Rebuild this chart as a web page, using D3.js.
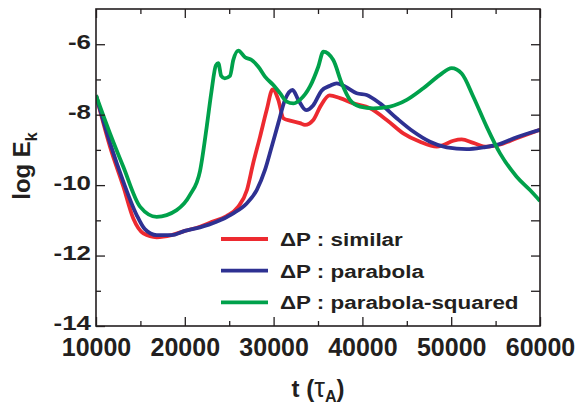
<!DOCTYPE html>
<html>
<head>
<meta charset="utf-8">
<script src="https://cdn.jsdelivr.net/npm/d3@7"></script>
<style>
  body { margin: 0; background: #fff; }
  svg { display: block; font-family: "Liberation Sans", Arial, Helvetica, sans-serif; font-weight: bold; }
</style>
</head>
<body>
<div id="chart"></div>
<script>
// Data: time t (tau_A) and log Ek for each case
var tSimilar = [10000, 11577, 13075, 14200, 15330, 16835, 18500, 20000, 21700, 23000, 24700, 26000, 27000, 27700, 28470, 29220, 29900, 30530, 31100, 31850, 32970, 33530, 34470, 35300, 36300, 37480, 38975, 40855, 42740, 44600, 46490, 48370, 49110, 50240, 51180, 52490, 53990, 55300, 57370, 60000];
var logSimilar = [-7.45, -8.91, -10.04, -10.95, -11.37, -11.48, -11.42, -11.3, -11.18, -11.05, -10.88, -10.62, -10.14, -9.38, -8.63, -7.87, -7.28, -7.58, -8.1, -8.17, -8.24, -8.29, -8.15, -7.75, -7.45, -7.53, -7.68, -7.82, -8.15, -8.53, -8.77, -8.91, -8.86, -8.74, -8.7, -8.8, -8.91, -8.86, -8.67, -8.43];

var tParabola = [10000, 11577, 13075, 14580, 15500, 16835, 18500, 20000, 21712, 23500, 25460, 26970, 28100, 29030, 29785, 30530, 31280, 32140, 32780, 33660, 34470, 35400, 36350, 37100, 38040, 39355, 40480, 41980, 43860, 45730, 47610, 49490, 51740, 53610, 55120, 57370, 60000];
var logParabola = [-7.45, -8.8, -9.9, -10.85, -11.25, -11.42, -11.42, -11.3, -11.2, -11.05, -10.8, -10.52, -10.14, -9.57, -8.91, -8.24, -7.58, -7.3, -7.58, -7.87, -7.73, -7.32, -7.18, -7.11, -7.2, -7.39, -7.44, -7.68, -8.1, -8.48, -8.77, -8.93, -8.98, -8.93, -8.86, -8.64, -8.43];

var tSquared = [10000, 11577, 13075, 14955, 16835, 19085, 20585, 21712, 22470, 23000, 23500, 23775, 24100, 24500, 25090, 25460, 26025, 26780, 27530, 28280, 29030, 29970, 30720, 31470, 32220, 32970, 34100, 35030, 35600, 36720, 37670, 38600, 39730, 41230, 43110, 44990, 46860, 48740, 50050, 51180, 52490, 53990, 55500, 57370, 58870, 60000];
var logSquared = [-7.45, -8.53, -9.48, -10.61, -10.9, -10.71, -10.28, -9.6, -8.34, -7.35, -6.6, -6.54, -6.9, -6.97, -6.9, -6.45, -6.18, -6.37, -6.45, -6.64, -6.92, -7.16, -7.39, -7.63, -7.68, -7.58, -7.2, -6.64, -6.21, -6.45, -7.11, -7.58, -7.77, -7.82, -7.77, -7.58, -7.25, -6.87, -6.68, -6.83, -7.49, -8.34, -9.1, -9.76, -10.14, -10.45];

var seriesNames = ['\u0394P : similar', '\u0394P : parabola', '\u0394P : parabola-squared'];
var seriesColors = ['#ed2a30', '#2e3192', '#00a14b'];

var xMajor = [10000, 20000, 30000, 40000, 50000, 60000];
var xMinor = [15000, 25000, 35000, 45000, 55000];
var yMajor = [-14, -12, -10, -8, -6];
var yMinor = [-13, -11, -9, -7];

var series = [
  d3.zip(tSimilar, logSimilar),
  d3.zip(tParabola, logParabola),
  d3.zip(tSquared, logSquared)
];

// SVG
var chart_width = 578;
var chart_height = 407;
var plotLeft = 96, plotRight = 540, plotTop = 9, plotBottom = 326;

var svg = d3.select('#chart')
  .append('svg')
  .attr('width', chart_width)
  .attr('height', chart_height);

var xScale = d3.scaleLinear().domain([10000, 60000]).range([plotLeft, plotRight]);
var yScale = d3.scaleLinear().domain([-14, -5]).range([plotBottom, plotTop]);

svg.append('clipPath').attr('id', 'plot')
  .append('rect')
  .attr('x', plotLeft).attr('y', plotTop)
  .attr('width', plotRight - plotLeft).attr('height', plotBottom - plotTop);

// Curves
var line = d3.line()
  .x(d => xScale(d[0]))
  .y(d => yScale(d[1]))
  .curve(d3.curveMonotoneX);

svg.append('g')
  .attr('clip-path', 'url(#plot)')
  .selectAll('path')
  .data(series)
  .enter()
  .append('path')
  .attr('d', line)
  .attr('fill', 'none')
  .attr('stroke', (d, i) => seriesColors[i])
  .attr('stroke-width', 3.8)
  .attr('stroke-linejoin', 'round');

// Axes (ticks point inward)
function styleAxis(g) {
  g.select('.domain').remove();
  g.selectAll('line').attr('stroke', '#231f20').attr('stroke-width', 1.3);
}

svg.append('g')
  .attr('transform', `translate(0,${plotBottom})`)
  .call(d3.axisBottom(xScale).tickValues(xMajor).tickSizeInner(-9).tickSizeOuter(0).tickPadding(12).tickFormat(d3.format('d')))
  .call(styleAxis)
  .selectAll('text')
  .attr('fill', '#231f20')
  .style('font-size', '25px')
  .style('font-family', null);

svg.append('g')
  .attr('transform', `translate(0,${plotBottom})`)
  .call(d3.axisBottom(xScale).tickValues(xMinor).tickSizeInner(-5).tickSizeOuter(0).tickFormat(''))
  .call(styleAxis);

svg.append('g')
  .attr('transform', `translate(0,${plotTop})`)
  .call(d3.axisTop(xScale).tickValues(xMajor).tickSizeInner(-9).tickSizeOuter(0).tickFormat(''))
  .call(styleAxis);

svg.append('g')
  .attr('transform', `translate(0,${plotTop})`)
  .call(d3.axisTop(xScale).tickValues(xMinor).tickSizeInner(-5).tickSizeOuter(0).tickFormat(''))
  .call(styleAxis);

svg.append('g')
  .attr('transform', `translate(${plotLeft},0)`)
  .call(d3.axisLeft(yScale).tickValues(yMajor).tickSizeInner(-9).tickSizeOuter(0).tickFormat(d => d))
  .call(styleAxis)
  .selectAll('text')
  .attr('fill', '#231f20')
  .attr('x', null)
  .attr('dy', '0.2em')
  .attr('transform', 'translate(-5,0) scale(1.33,1)')
  .style('font-size', '19.5px')
  .style('font-family', null);

svg.append('g')
  .attr('transform', `translate(${plotLeft},0)`)
  .call(d3.axisLeft(yScale).tickValues(yMinor).tickSizeInner(-5).tickSizeOuter(0).tickFormat(''))
  .call(styleAxis);

svg.append('g')
  .attr('transform', `translate(${plotRight},0)`)
  .call(d3.axisRight(yScale).tickValues(d3.range(-13, -5)).tickSizeInner(-9).tickSizeOuter(0).tickFormat(''))
  .call(styleAxis);

// Frame
svg.append('rect')
  .attr('x', plotLeft).attr('y', plotTop)
  .attr('width', plotRight - plotLeft).attr('height', plotBottom - plotTop)
  .attr('fill', 'none')
  .attr('stroke', '#231f20')
  .attr('stroke-width', 1.6);

// Axis titles
var xTitle = svg.append('text')
  .attr('x', (plotLeft + plotRight) / 2)
  .attr('y', 397)
  .attr('text-anchor', 'middle')
  .attr('fill', '#231f20')
  .style('font-size', '24px');
xTitle.append('tspan').text('t (');
xTitle.append('tspan').style('font-weight', 'normal').style('font-size', '27px').text('\u03c4');
xTitle.append('tspan').attr('dy', 5).style('font-size', '16px').text('A');
xTitle.append('tspan').attr('dy', -5).text(')');

var yTitle = svg.append('text')
  .attr('transform', 'translate(30,166) rotate(-90)')
  .attr('text-anchor', 'middle')
  .attr('fill', '#231f20')
  .style('font-size', '24px');
yTitle.append('tspan').text('log E');
yTitle.append('tspan').attr('dy', 7).style('font-size', '16px').text('k');

// Legend
var legend = svg.append('g')
  .selectAll('g')
  .data(seriesNames)
  .enter()
  .append('g')
  .attr('transform', (d, i) => `translate(221,${239 + i * 31.7})`);

legend.append('line')
  .attr('x1', 0).attr('x2', 47)
  .attr('stroke', (d, i) => seriesColors[i])
  .attr('stroke-width', 3.8);

legend.append('text')
  .attr('transform', 'translate(59,0) scale(1.18,1)')
  .attr('dy', '0.36em')
  .attr('fill', '#231f20')
  .style('font-size', '19px')
  .text(d => d);
</script>
</body>
</html>
